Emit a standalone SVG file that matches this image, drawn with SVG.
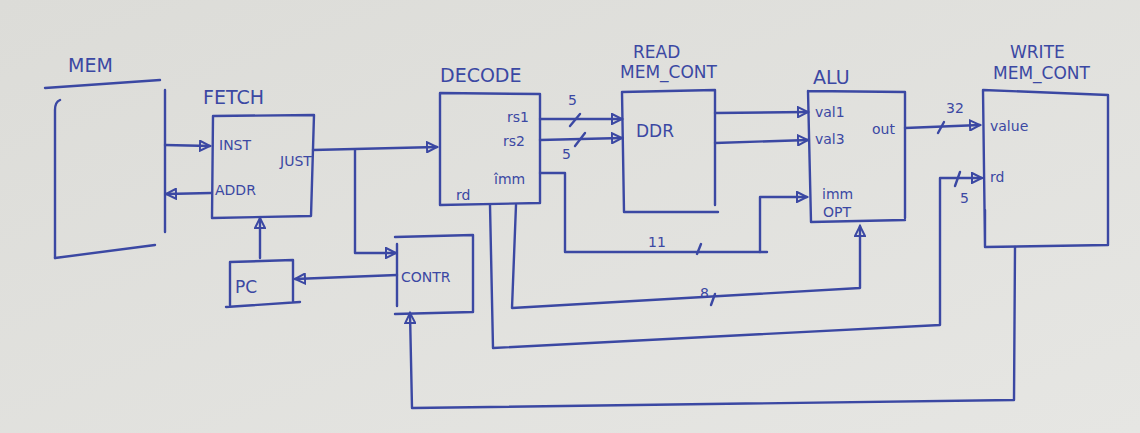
<svg xmlns="http://www.w3.org/2000/svg" width="1140" height="433" viewBox="0 0 1140 433">
<defs>
<marker id="ah" markerWidth="14" markerHeight="12" refX="11" refY="6" orient="auto" markerUnits="userSpaceOnUse">
<path d="M1,1 L11,6 L1,11 Z" fill="none" stroke="#3b48a3" stroke-width="2"/>
</marker>
<linearGradient id="bg" x1="0" y1="0" x2="1" y2="1">
<stop offset="0" stop-color="#dcdcd8"/>
<stop offset="1" stop-color="#e6e6e3"/>
</linearGradient>
</defs>
<style>
.ln{fill:none;stroke:#3b48a3;stroke-width:2.4;stroke-linecap:round;stroke-linejoin:round}
.t{fill:#3b48a3;font-family:"DejaVu Sans",sans-serif;font-size:17px}
.s{fill:#3b48a3;font-family:"DejaVu Sans",sans-serif;font-size:14px}
.h{fill:#3b48a3;font-family:"DejaVu Sans",sans-serif;font-size:19px}
</style>
<rect x="0" y="0" width="1140" height="433" fill="url(#bg)"/>

<g id="mem">
<text class="h" x="68" y="72">MEM</text>
<path class="ln" d="M45,88 L160,80"/>
<path class="ln" d="M60,100 Q55,102 55,110 L55,258"/>
<path class="ln" d="M55,258 L155,245"/>
<path class="ln" d="M165,90 L165,232"/>
</g>

<g id="fetch">
<text class="h" x="203" y="104">FETCH</text>
<path class="ln" d="M213,116 L314,115 L311,216 L212,218 Z"/>
<text class="s" x="219" y="150">INST</text>
<text class="s" x="280" y="166">JUST</text>
<text class="s" x="215" y="195">ADDR</text>
</g>

<g id="pc">
<path class="ln" d="M230,262 L293,260 L293,302 M230,262 L230,305 M226,307 L300,302"/>
<text class="t" x="235" y="293">PC</text>
</g>

<g id="contr">
<path class="ln" d="M395,237 L473,235 L473,312 L395,314 M397,244 L397,306"/>
<text class="s" x="401" y="282">CONTR</text>
</g>

<g id="decode">
<text class="h" x="440" y="82">DECODE</text>
<path class="ln" d="M440,93 L540,94 L540,203 L440,205 Z"/>
<text class="s" x="507" y="122">rs1</text>
<text class="s" x="503" y="146">rs2</text>
<text class="s" x="494" y="184">îmm</text>
<text class="s" x="456" y="200">rd</text>
</g>

<g id="read">
<text class="t" x="633" y="58">READ</text>
<text class="t" x="620" y="78">MEM_CONT</text>
<path class="ln" d="M622,92 L715,90 L715,205 M622,92 L624,212 L718,212"/>
<text class="t" x="636" y="137">DDR</text>
</g>

<g id="alu">
<text class="h" x="813" y="84">ALU</text>
<path class="ln" d="M808,91 L905,92 L905,218 M808,91 L811,222 L905,220"/>
<text class="s" x="815" y="117">val1</text>
<text class="s" x="815" y="144">val3</text>
<text class="s" x="872" y="134">out</text>
<text class="s" x="822" y="199">imm</text>
<text class="s" x="823" y="217">OPT</text>
</g>

<g id="write">
<text class="t" x="1010" y="58">WRITE</text>
<text class="t" x="993" y="79">MEM_CONT</text>
<path class="ln" d="M983,90 L1108,95 L1108,245 L985,247 L983,90 M985,210 L985,247"/>
<text class="s" x="990" y="131">value</text>
<text class="s" x="990" y="182">rd</text>
</g>

<g id="connectors">
<path class="ln" d="M165,145 L210,146" marker-end="url(#ah)"/>
<path class="ln" d="M211,193 L166,194" marker-end="url(#ah)"/>
<path class="ln" d="M260,258 L260,218" marker-end="url(#ah)"/>
<path class="ln" d="M397,275 L295,279" marker-end="url(#ah)"/>
<path class="ln" d="M313,150 L437,147" marker-end="url(#ah)"/>
<path class="ln" d="M355,150 L355,253 L396,253" marker-end="url(#ah)"/>
<path class="ln" d="M540,119 L622,119" marker-end="url(#ah)"/>
<path class="ln" d="M570,126 L580,114"/>
<text class="s" x="568" y="105">5</text>
<path class="ln" d="M540,140 L622,138" marker-end="url(#ah)"/>
<path class="ln" d="M575,146 L585,133"/>
<text class="s" x="562" y="159">5</text>
<path class="ln" d="M715,113 L808,112" marker-end="url(#ah)"/>
<path class="ln" d="M715,143 L808,140" marker-end="url(#ah)"/>
<path class="ln" d="M905,128 L980,125" marker-end="url(#ah)"/>
<path class="ln" d="M938,133 L944,122"/>
<text class="s" x="946" y="113" font-size="12">32</text>
<path class="ln" d="M540,173 L565,173 L565,252 L767,252"/>
<path class="ln" d="M760,252 L760,197 L807,197" marker-end="url(#ah)"/>
<text class="s" x="648" y="247">11</text>
<path class="ln" d="M697,254 L701,244"/>
<path class="ln" d="M516,205 L512,308 L860,288 L860,226" marker-end="url(#ah)"/>
<text class="s" x="700" y="298">8</text>
<path class="ln" d="M711,305 L715,294"/>
<path class="ln" d="M490,205 L493,348 L940,325 L940,178 L982,178" marker-end="url(#ah)"/>
<path class="ln" d="M955,186 L960,172"/>
<text class="s" x="960" y="203">5</text>
<path class="ln" d="M1015,247 L1014,400 L412,408 L410,313" marker-end="url(#ah)"/>
</g>
</svg>
